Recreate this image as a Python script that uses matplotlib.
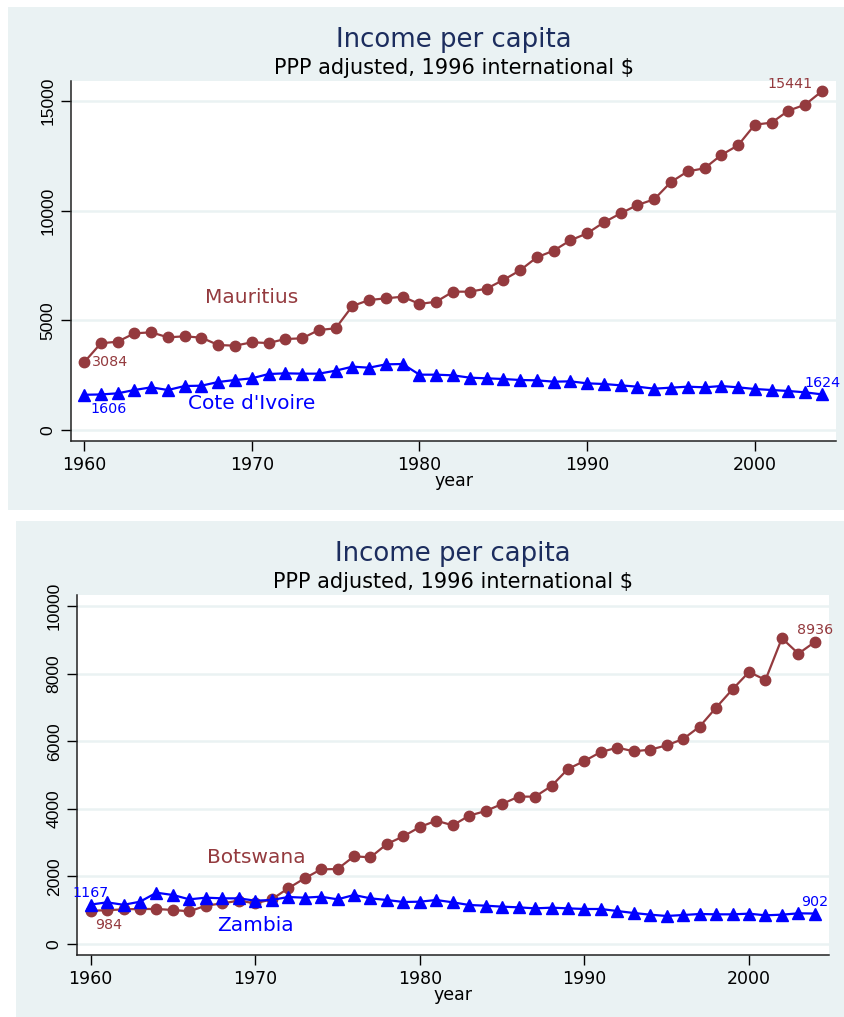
import matplotlib
matplotlib.use("Agg")
import matplotlib.pyplot as plt
from matplotlib.patches import Rectangle

years = list(range(1960, 2005))

mauritius = [3084, 3951, 4026, 4406, 4452, 4224, 4270, 4209, 3874, 3844,
             3996, 3965, 4148, 4178, 4558, 4634, 5652, 5925, 6001, 6077,
             5743, 5849, 6305, 6305, 6442, 6837, 7278, 7870, 8174, 8645,
             8964, 9465, 9875, 10256, 10515, 11304, 11790, 11928, 12535, 12976,
             13917, 14008, 14555, 14828, 15441]
cote_divoire = [1606, 1620, 1672, 1823, 1945, 1823, 2005, 2020, 2188, 2279,
                2355, 2552, 2583, 2568, 2568, 2704, 2887, 2841, 2993, 3008,
                2522, 2522, 2492, 2386, 2355, 2325, 2279, 2264, 2203, 2218,
                2127, 2097, 2036, 1975, 1884, 1930, 1975, 1945, 2005, 1945,
                1869, 1823, 1778, 1717, 1624]
botswana = [984, 1000, 1026, 1036, 1036, 1006, 967, 1134, 1203, 1282,
            1203, 1322, 1647, 1943, 2209, 2219, 2594, 2565, 2959, 3186,
            3462, 3649, 3511, 3797, 3935, 4143, 4360, 4360, 4675, 5178,
            5415, 5681, 5809, 5701, 5750, 5878, 6066, 6431, 6993, 7536,
            8048, 7812, 9046, 8590, 8936]
zambia = [1167, 1233, 1160, 1252, 1518, 1450, 1322, 1371, 1351, 1351,
          1282, 1302, 1391, 1371, 1400, 1322, 1450, 1351, 1302, 1243,
          1252, 1302, 1233, 1154, 1134, 1105, 1085, 1055, 1075, 1055,
          1036, 1036, 976, 917, 868, 829, 858, 888, 878, 878,
          898, 849, 868, 908, 902]

xticks = [1960, 1970, 1980, 1990, 2000]
yticks_top = [0, 5000, 10000, 15000]
yticks_bottom = [0, 2000, 4000, 6000, 8000, 10000]

title = "Income per capita"
subtitle = "PPP adjusted, 1996 international $"

BG = "#eaf2f3"
RED = "#943a3e"
BLUE = "#0000ff"
NAVY = "#1c2d5e"

W, H = 844, 1017
fig = plt.figure(figsize=(W / 100, H / 100), dpi=100)


def box(x0, y0, x1, y1):
    # pixel box (top-left origin) -> figure fraction [l, b, w, h]
    return [x0 / W, 1 - y1 / H, (x1 - x0) / W, (y1 - y0) / H]


def panel(bg, axbox, off, red, blue, red_name, blue_name, yticks, ylim, xlim,
          name_pos, red_lbls, blue_lbls):
    l, b, w, h = box(*bg)
    fig.patches.append(Rectangle((l, b), w, h, transform=fig.transFigure,
                                 facecolor=BG, edgecolor="none", zorder=-5))
    cx = (axbox[0] + axbox[2]) / 2 / W
    fig.text(cx, 1 - (47 + off) / H, title, ha="center", va="baseline",
             fontsize=18.7, color=NAVY)
    fig.text(cx, 1 - (74 + off) / H, subtitle, ha="center", va="baseline",
             fontsize=15, color="black")

    ax = fig.add_axes(box(*axbox))
    ax.set_facecolor("white")
    ax.plot(years, red, color=RED, lw=1.6, marker="o", ms=7.5, zorder=3)
    ax.plot(years, blue, color=BLUE, lw=1.6, marker="^", ms=8, zorder=3)
    ax.set_xlim(*xlim)
    ax.set_ylim(*ylim)
    ax.set_xticks(xticks)
    ax.set_yticks(yticks)
    ax.set_yticklabels([str(t) for t in yticks], rotation=90, va="center",
                       family="Liberation Sans", fontsize=12.6)
    ax.tick_params(axis="x", labelsize=12.5, length=7, width=1, pad=4)
    ax.tick_params(axis="y", length=7, width=1, pad=4)
    ax.grid(axis="y", color=BG, lw=1.8, zorder=0)
    ax.grid(axis="x", visible=False)
    for s in ["top", "right"]:
        ax.spines[s].set_visible(False)
    for s in ["left", "bottom"]:
        ax.spines[s].set_color("#222222")
        ax.spines[s].set_linewidth(1.1)
    ax.set_xlabel("year", fontsize=12.5, labelpad=-2)

    (rx, ry), (bx, by) = name_pos
    ax.text(rx, ry, red_name, color=RED, fontsize=14.5, ha="center", va="center")
    ax.text(bx, by, blue_name, color=BLUE, fontsize=14.5, ha="center", va="center")

    for series, color, lbls in [(red, RED, red_lbls), (blue, BLUE, blue_lbls)]:
        for idx, dx, dy, ha in lbls:
            ax.annotate(str(series[idx]), (years[idx], series[idx]),
                        xytext=(dx, dy), textcoords="offset pixels",
                        ha=ha, va="center", fontsize=10.3, color=color,
                        zorder=4)
    return ax


panel((8, 7, 844, 510), (71, 81, 836, 441), 0, mauritius, cote_divoire,
      "Mauritius", "Cote d'Ivoire", yticks_top, (-501, 15907),
      (1959.22, 2004.84), ((1970.0, 6060), (1970.0, 1230)),
      [(0, 8, 0, "left"), (-1, -9, 7, "right")],
      [(0, 6, -14, "left"), (-1, 1, 11, "center")])

panel((16, 521, 844, 1017), (77, 595, 829, 955), 514, botswana, zambia,
      "Botswana", "Zambia", yticks_bottom, (-325, 10325),
      (1959.17, 2004.86), ((1970.06, 2545), (1970.0, 533)),
      [(0, 4, -14, "left"), (-1, 0, 12, "center")],
      [(0, 0, 12, "center"), (-1, 0, 12, "center")])

fig.savefig("out.png", dpi=100)
